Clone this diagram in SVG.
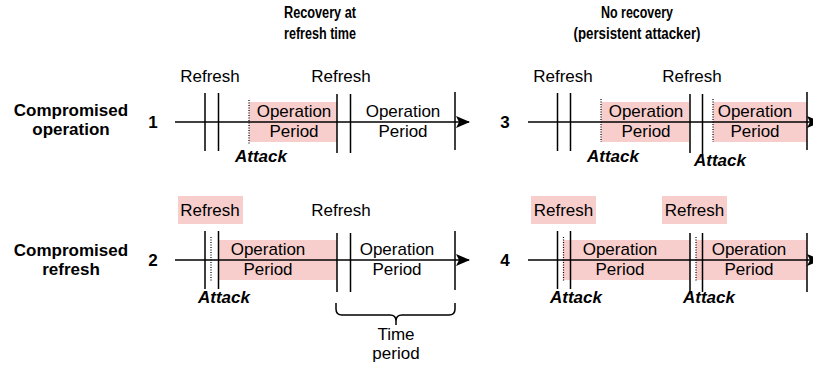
<svg xmlns="http://www.w3.org/2000/svg" width="813" height="367" viewBox="0 0 813 367">
<style>
text{font-family:"Liberation Sans",Arial,sans-serif;font-size:17px;fill:#000;text-anchor:middle}
.b{font-weight:bold}
.h{font-weight:bold;font-size:16px}
.att{font-weight:bold;font-style:italic}
.ln{stroke:#000;stroke-width:1.5;fill:none}
.dot{stroke:#000;stroke-width:1.2;stroke-dasharray:1 1.5;fill:none}
.pk{fill:#f8cecc;stroke:none}
</style>
<defs>
<marker id="ah" markerWidth="14" markerHeight="12" refX="13" refY="6" orient="auto" markerUnits="userSpaceOnUse">
<path d="M0,0 L14,6 L0,12 L3,6 Z" fill="#000"/>
</marker>
</defs>
<rect width="813" height="367" fill="#fff"/>
<g id="headers">
<text class="h" x="320" y="18" textLength="72" lengthAdjust="spacingAndGlyphs">Recovery at</text>
<text class="h" x="320" y="39" textLength="72" lengthAdjust="spacingAndGlyphs">refresh time</text>
<text class="h" x="637" y="18" textLength="72" lengthAdjust="spacingAndGlyphs">No recovery</text>
<text class="h" x="637" y="39" textLength="127" lengthAdjust="spacingAndGlyphs">(persistent attacker)</text>
</g>
<g id="row-labels">
<text class="b" x="71" y="116">Compromised</text>
<text class="b" x="71" y="135">operation</text>
<text class="b" x="71" y="256">Compromised</text>
<text class="b" x="71" y="275">refresh</text>
<text class="b" x="153" y="128">1</text>
<text class="b" x="153" y="266">2</text>
<text class="b" x="505" y="128">3</text>
<text class="b" x="505" y="266">4</text>
</g>
<g id="fills">
<rect class="pk" x="249" y="102" width="88" height="40"/>
<rect class="pk" x="601" y="102" width="88" height="40"/>
<rect class="pk" x="713" y="102" width="94" height="40"/>
<rect class="pk" x="218" y="240" width="119" height="40"/>
<rect class="pk" x="563" y="240" width="127" height="40"/>
<rect class="pk" x="696" y="240" width="111" height="40"/>
<rect class="pk" x="178" y="196" width="65" height="28"/>
<rect class="pk" x="531" y="196" width="65" height="28"/>
<rect class="pk" x="662" y="196" width="65" height="28"/>
</g>
<g id="connectors">
<line class="ln" x1="175" y1="122" x2="469" y2="122" marker-end="url(#ah)"/>
<line class="ln" x1="528" y1="122" x2="820" y2="122" marker-end="url(#ah)"/>
<line class="ln" x1="175" y1="260" x2="469" y2="260" marker-end="url(#ah)"/>
<line class="ln" x1="528" y1="260" x2="820" y2="260" marker-end="url(#ah)"/>
</g>
<g id="timeline1">
<path class="ln" d="M205,93V151M218.5,93V151M337,94V153M350.5,94V153M455,92V150"/>
<path class="dot" d="M249,100V145"/>
<text x="210" y="82">Refresh</text>
<text x="341" y="82">Refresh</text>
<text x="294" y="117">Operation</text>
<text x="294" y="137">Period</text>
<text x="403" y="117">Operation</text>
<text x="403" y="137">Period</text>
<text class="att" x="261" y="162">Attack</text>
</g>
<g id="timeline2">
<path class="ln" d="M205,231V289M218.5,231V289M337,233V292M350.5,233V292M455,231V290"/>
<path class="dot" d="M211,237V281"/>
<text x="210" y="216">Refresh</text>
<text x="341" y="216">Refresh</text>
<text x="268" y="255">Operation</text>
<text x="268" y="275">Period</text>
<text x="397" y="255">Operation</text>
<text x="397" y="275">Period</text>
<text class="att" x="224" y="303">Attack</text>
</g>
<g id="timeline3">
<path class="ln" d="M557.5,93V151M570.5,93V151M690,94V153M702.5,94V156M807,92V150"/>
<path class="dot" d="M601,99V142M713,99V142"/>
<text x="563" y="82">Refresh</text>
<text x="692" y="82">Refresh</text>
<text x="646" y="117">Operation</text>
<text x="646" y="137">Period</text>
<text x="755" y="117">Operation</text>
<text x="755" y="137">Period</text>
<text class="att" x="613" y="162">Attack</text>
<text class="att" x="720" y="166">Attack</text>
</g>
<g id="timeline4">
<path class="ln" d="M557.5,231V289M570.5,231V289M690,233V292M702.5,233V292M807,233V292"/>
<path class="dot" d="M563.5,237V281M696,237V281"/>
<text x="563.5" y="216">Refresh</text>
<text x="694.5" y="216">Refresh</text>
<text x="620" y="255">Operation</text>
<text x="620" y="275">Period</text>
<text x="749" y="255">Operation</text>
<text x="749" y="275">Period</text>
<text class="att" x="576" y="303">Attack</text>
<text class="att" x="709" y="303">Attack</text>
</g>
<g id="time-period">
<path class="ln" d="M336,303V309Q336,315 342,315H390Q396,315 396,321V325M396,321Q396,315 402,315H449Q455,315 455,309V303"/>
<text x="396" y="340">Time</text>
<text x="396" y="359">period</text>
</g>
</svg>
